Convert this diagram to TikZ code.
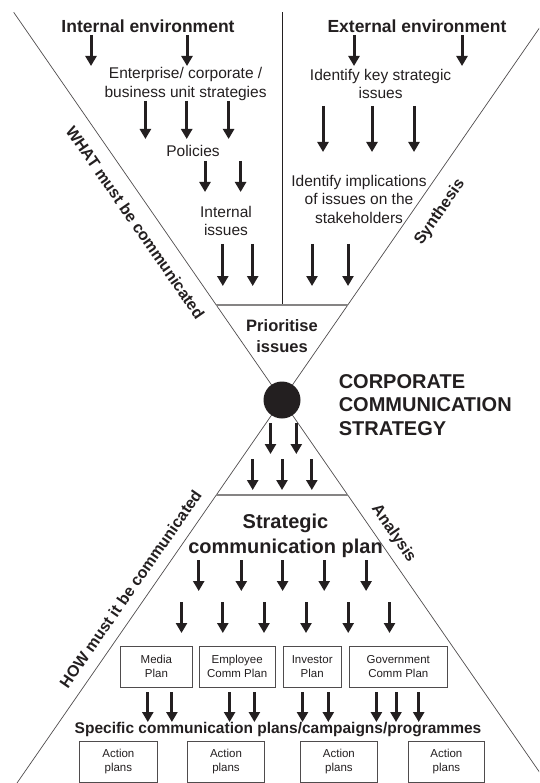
\documentclass[tikz,border=0pt]{standalone}
\usepackage{fontspec}
\setmainfont{Liberation Sans}
\usetikzlibrary{arrows.meta}
\definecolor{ink}{HTML}{231F20}
\begin{document}
\begin{tikzpicture}[x=1pt,y=-1pt,
  arr/.style={draw=ink, line width=3pt, -{Triangle[length=10pt,width=11pt]}},
  funnel/.style={draw=ink!80, line width=0.7pt},
  rule/.style={draw=ink!55, line width=1.6pt},
  divider/.style={draw=ink, line width=0.8pt},
  head/.style={text=ink, font=\bfseries\fontsize{17.5}{21}\selectfont, inner sep=0pt},
  label/.style={text=ink, font=\fontsize{15.5}{18.5}\selectfont, align=center, inner sep=0pt},
  side/.style={text=ink, font=\bfseries\fontsize{16}{18}\selectfont, inner sep=2pt},
  plan/.style={draw=ink!80, line width=0.8pt, text=ink, font=\fontsize{11.5}{14}\selectfont, align=center, inner sep=0pt},
]
\useasboundingbox (0,0) rectangle (539,783);

% hourglass outline
\coordinate (tl) at (13.7,12.3);
\coordinate (tr) at (550.3,12.3);
\coordinate (bl) at (17.0,783);
\coordinate (br) at (547.0,783);
\coordinate (hub) at (282,400);
\begin{scope}
  \clip (0,0) rectangle (539,783);
  \draw[funnel] (tl) -- (br);
  \draw[funnel] (tr) -- (bl);
\end{scope}
\coordinate (vtop) at (282,12.3);
\coordinate (vbot) at (282,305);
\draw[divider] (vtop) -- (vbot);
\coordinate (r1l) at (216.3,305);
\coordinate (r1r) at (347.7,305);
\coordinate (r2l) at (216.3,495);
\coordinate (r2r) at (347.7,495);
\draw[rule] (r1l) -- (r1r);
\draw[rule] (r2l) -- (r2r);

% upper half
\node[head] (intenv) at (148,26) {Internal environment};
\node[head] (extenv) at (417,26) {External environment};
\node[label] (ent) at (185.6,84) {Enterprise/ corporate /\\business unit strategies};
\node[label] (pol) at (193,151) {Policies};
\node[label] (intiss) at (226,221) {Internal\\issues};
\node[label] (key) at (380.6,84) {Identify key strategic\\issues};
\node[label] (impl) at (359,199) {Identify implications\\of issues on the\\stakeholders};

\foreach \x in {91,187} \draw[arr] (\x,35) -- (\x,66);
\foreach \x in {354,462} \draw[arr] (\x,35) -- (\x,66);
\foreach \x in {145.4,186.7,228.6} \draw[arr] (\x,101) -- (\x,139);
\foreach \x in {205,240.6} \draw[arr] (\x,161) -- (\x,192);
\foreach \x in {222.8,252.7} \draw[arr] (\x,244) -- (\x,286);
\foreach \x in {323,372,414} \draw[arr] (\x,106) -- (\x,152);
\foreach \x in {312,348} \draw[arr] (\x,244) -- (\x,286);

\node[side, rotate=-55.3, anchor=north] (what) at (142,217.7) {WHAT must be communicated};
\node[side, rotate=55.3, anchor=north] (syn) at (432,206.9) {Synthesis};

\node[text=ink, font=\bfseries\fontsize{16.5}{21}\selectfont, align=center, inner sep=0pt] (prio) at (282,336) {Prioritise\\issues};

% centre
\fill[ink] (hub) circle (18.5);
\node[text=ink, font=\bfseries\fontsize{20}{23.5}\selectfont, align=left, anchor=west, inner sep=0pt] (ccs) at (338.6,405) {CORPORATE\\COMMUNICATION\\STRATEGY};

% lower half
\foreach \x in {270.5,296.3} \draw[arr] (\x,423) -- (\x,454);
\foreach \x in {252.7,282,311.8} \draw[arr] (\x,459) -- (\x,490);

\node[text=ink, font=\bfseries\fontsize{20}{25}\selectfont, align=center, inner sep=0pt] (scp) at (285.5,535.5) {Strategic\\communication plan};

\foreach \x in {198.7,241.3,282.6,324.2,366.1} \draw[arr] (\x,560) -- (\x,591);
\foreach \x in {181.5,222.8,264,306,348.2,389.5} \draw[arr] (\x,602) -- (\x,633);

\node[plan, minimum width=72.2pt, minimum height=41pt] (media) at (156.4,666.5) {Media\\Plan};
\node[plan, minimum width=75.6pt, minimum height=41pt] (empl) at (237.2,666.5) {Employee\\Comm Plan};
\node[plan, minimum width=58.4pt, minimum height=41pt] (inv) at (312.2,666.5) {Investor\\Plan};
\node[plan, minimum width=98.6pt, minimum height=41pt] (gov) at (398.3,666.5) {Government\\Comm Plan};

\foreach \x in {147.8,171.9,229.6,254.4,302.5,328.3,376.4,396,418.7} \draw[arr] (\x,692) -- (\x,722);

\node[text=ink, font=\bfseries\fontsize{15.5}{18}\selectfont, inner sep=0pt] (spec) at (278,730) {Specific communication plans/campaigns/programmes};

\node[plan, minimum width=77.3pt, minimum height=41pt] (act1) at (118.4,761.5) {Action\\plans};
\node[plan, minimum width=77.4pt, minimum height=41pt] (act2) at (226,761.5) {Action\\plans};
\node[plan, minimum width=76.2pt, minimum height=41pt] (act3) at (338.9,761.5) {Action\\plans};
\node[plan, minimum width=76.7pt, minimum height=41pt] (act4) at (446.4,761.5) {Action\\plans};

\node[side, rotate=55.3, anchor=south] (how) at (137.1,593.6) {HOW must it be communicated};
\node[side, rotate=-55.3, anchor=south] (ana) at (385.5,539.1) {Analysis};
\end{tikzpicture}
\end{document}
